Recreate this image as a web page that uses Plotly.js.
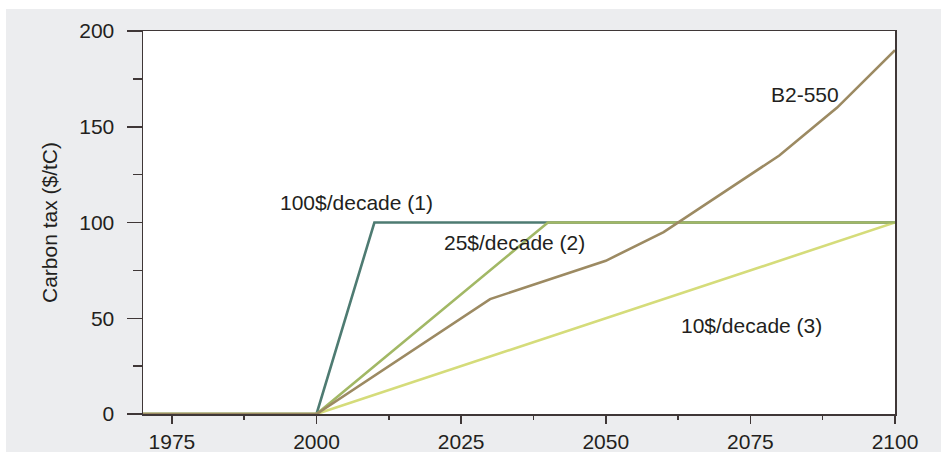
<!DOCTYPE html>
<html>
<head>
<meta charset="utf-8">
<script src="https://cdn.plot.ly/plotly-3.0.1.min.js"></script>
<style>
  html, body { margin: 0; padding: 0; background: #ffffff; }
  #chart { position: absolute; left: 6px; top: 9px; width: 935px; height: 443px; }
</style>
</head>
<body>
<div id="chart"></div>
<script>
// Carbon tax paths ($/tC) by year
const yearsFlat100 = [1970, 2000, 2010, 2100];
const tax100 = [0, 0, 100, 100];          // 100$/decade (1)

const yearsFlat25 = [1970, 2000, 2040, 2100];
const tax25 = [0, 0, 100, 100];           // 25$/decade (2)

const yearsFlat10 = [1970, 2000, 2100];
const tax10 = [0, 0, 100];                // 10$/decade (3)

const yearsB2 = [1970, 2000, 2030, 2050, 2060, 2080, 2090, 2100];
const taxB2 = [0, 0, 60, 80, 95, 135, 160, 190]; // B2-550

const labels = ["100$/decade (1)", "25$/decade (2)", "10$/decade (3)", "B2-550"];
const labelYears = [2006.9, 2034.3, 2075.2, 2084.4];
const labelTax = [110.5, 89.3, 46.1, 167];

const xTicks = [1975, 2000, 2025, 2050, 2075, 2100];
const yTicks = [0, 50, 100, 150, 200];

const FONT = "Liberation Sans, Arial, Helvetica, sans-serif";
const INK = "#231f20";
const AXIS = "#3f3737";
const FS = 21;

function line(x, y, color, name) {
  return {
    x: x, y: y, name: name, type: "scatter", mode: "lines",
    line: { color: color, width: 2.6 }, cliponaxis: false, hoverinfo: "skip"
  };
}

const traces = [
  line(yearsFlat100, tax100, "#4e7b72", labels[0]),
  line(yearsFlat10, tax10, "#d5dc7a", labels[2]),
  line(yearsFlat25, tax25, "#a2b865", labels[1]),
  line(yearsB2, taxB2, "#9c8a62", labels[3])
];

const annotations = labels.map((t, i) => ({
  x: labelYears[i], y: labelTax[i], xref: "x", yref: "y",
  text: t, showarrow: false, xanchor: "center", yanchor: "middle",
  font: { family: FONT, size: FS, color: INK }
}));

const layout = {
  width: 935, height: 443,
  paper_bgcolor: "#ecedef",
  plot_bgcolor: "#ffffff",
  margin: { l: 137, r: 46, t: 22, b: 38 },
  showlegend: false,
  font: { family: FONT, size: FS, color: INK },
  xaxis: {
    range: [1970, 2100], tickvals: xTicks, ticktext: xTicks.map(String),
    ticks: "outside", ticklen: 8, tickwidth: 1.5, tickcolor: AXIS,
    minor: { tickvals: [1987.5, 2012.5, 2037.5, 2062.5, 2087.5], ticks: "outside", ticklen: 4, tickwidth: 1.5, tickcolor: AXIS, showgrid: false },
    showline: true, linecolor: AXIS, linewidth: 1.5, mirror: true,
    showgrid: false, zeroline: false,
    tickfont: { family: FONT, size: FS, color: INK }
  },
  yaxis: {
    range: [0, 200], tickvals: yTicks, ticktext: yTicks.map(String),
    ticks: "outside", ticklen: 15, tickwidth: 1.5, tickcolor: AXIS,
    ticklabelstandoff: 8,
    minor: { tickvals: [25, 75, 125, 175], ticks: "outside", ticklen: 9, tickwidth: 1.5, tickcolor: AXIS, showgrid: false },
    showline: true, linecolor: AXIS, linewidth: 1.5, mirror: true,
    showgrid: false, zeroline: false,
    tickfont: { family: FONT, size: FS, color: INK },
    title: { text: "Carbon tax ($/tC)", font: { family: FONT, size: FS, color: INK }, standoff: 16 }
  },
  annotations: annotations
};

Plotly.newPlot("chart", traces, layout, { staticPlot: true, displayModeBar: false });
</script>
</body>
</html>
